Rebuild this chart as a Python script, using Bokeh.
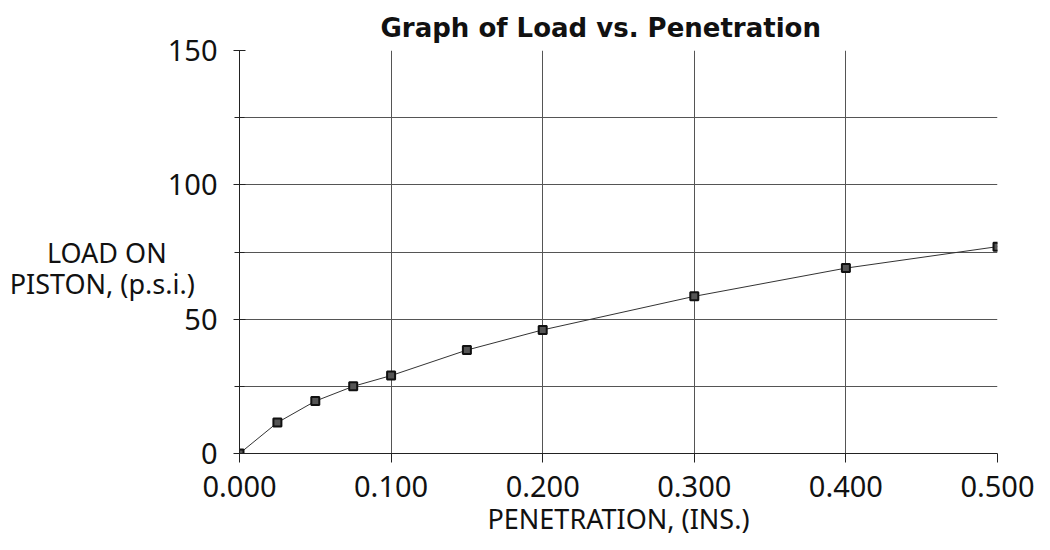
from bokeh.plotting import figure
from bokeh.models import FixedTicker, Range1d
from bokeh.embed import file_html
from bokeh.resources import INLINE

penetration = [0.0, 0.025, 0.05, 0.075, 0.1, 0.15, 0.2, 0.3, 0.4, 0.5]
load = [0.0, 11.5, 19.5, 25.0, 29.0, 38.5, 46.0, 58.5, 69.0, 77.0]
x_ticks = [0.0, 0.1, 0.2, 0.3, 0.4, 0.5]
x_tick_labels = {0.0: "0.000", 0.1: "0.100", 0.2: "0.200", 0.3: "0.300", 0.4: "0.400", 0.5: "0.500"}
y_major = [0, 50, 100, 150]
y_minor = [25, 75, 125]
title_text = "Graph of Load vs. Penetration"
x_label = "PENETRATION, (INS.)"
y_label = " \nLOAD ON" + "\u00a0" * 4 + "\nPISTON, (p.s.i.)"

FONT = "Noto Sans"
GRID = "#555555"

p = figure(width=1034, height=539, output_backend="svg", toolbar_location=None,
           x_range=Range1d(0, 0.5), y_range=Range1d(0, 150),
           min_border_left=239, min_border_right=37, min_border_top=50, min_border_bottom=81)
p.outline_line_color = None
p.background_fill_color = "white"
p.border_fill_color = "white"

# title
p.title.text = title_text
p.title.text_font = "DejaVu Sans"
p.title.text_font_size = "26px"
p.title.text_font_style = "bold"
p.title.text_color = "#111111"
p.title.align = "left"
p.title.offset = 141
p.title.standoff = 16

# grids
p.xgrid.ticker = FixedTicker(ticks=x_ticks)
p.ygrid.ticker = FixedTicker(ticks=y_major, minor_ticks=y_minor)
for g in (p.xgrid, p.ygrid):
    g.grid_line_color = GRID
    g.grid_line_width = 1
p.ygrid.minor_grid_line_color = GRID
p.ygrid.minor_grid_line_width = 1

# axes
xa = p.xaxis[0]
xa.ticker = FixedTicker(ticks=x_ticks)
xa.major_label_overrides = x_tick_labels
xa.axis_label = x_label
xa.axis_label_text_font = FONT
xa.axis_label_text_font_size = "27px"
xa.axis_label_text_font_style = "normal"
xa.axis_label_text_color = "#111111"
xa.axis_label_standoff = 0
xa.major_label_text_font = FONT
xa.major_label_text_font_size = "29px"
xa.major_label_text_color = "#111111"
xa.major_label_standoff = 13
xa.major_tick_in = 0
xa.major_tick_out = 9
xa.minor_tick_line_color = None

ya = p.yaxis[0]
ya.ticker = FixedTicker(ticks=y_major, minor_ticks=y_minor)
ya.major_label_text_font = FONT
ya.major_label_text_font_size = "29px"
ya.major_label_text_color = "#111111"
ya.major_label_standoff = 16
ya.major_tick_in = 6
ya.major_tick_out = 6
ya.minor_tick_in = 5
ya.minor_tick_out = 5
ya.minor_tick_line_color = "#222222"
ya.axis_label = y_label
ya.axis_label_orientation = "horizontal"
ya.axis_label_text_font = FONT
ya.axis_label_text_font_size = "27px"
ya.axis_label_text_font_style = "normal"
ya.axis_label_text_color = "#111111"
ya.axis_label_text_align = "center"
ya.axis_label_text_line_height = 0.85
ya.axis_label_standoff = -30

for ax in (xa, ya):
    ax.axis_line_color = "#222222"
    ax.major_tick_line_color = "#222222"

# data
p.line(penetration, load, line_color="#333333", line_width=1)
p.scatter(penetration, load, marker="square", size=8, fill_color="#555555",
          line_color="#111111", line_width=2)

open("out.html", "w").write(file_html(p, INLINE))
